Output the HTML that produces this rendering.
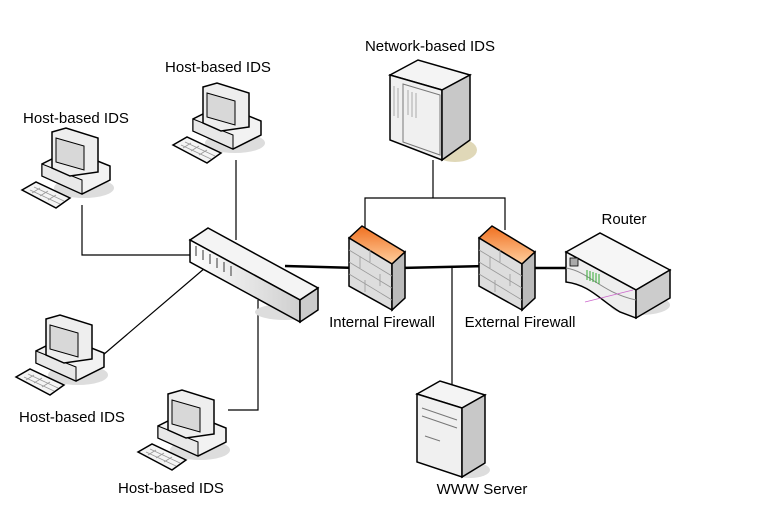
<!DOCTYPE html>
<html><head><meta charset="utf-8"><style>
body{margin:0;background:#fff}
svg{display:block}
text{font-family:"Liberation Sans",sans-serif;font-size:15px;fill:#000}
</style></head><body>
<svg width="771" height="513" viewBox="0 0 771 513">
<defs>
<linearGradient id="g1" x1="0" y1="0" x2="1" y2="0"><stop offset="0" stop-color="#fff"/><stop offset="1" stop-color="#cfcfcf"/></linearGradient>
<linearGradient id="fw" x1="0" y1="0" x2="0" y2="1"><stop offset="0" stop-color="#f07020"/><stop offset="1" stop-color="#ffd0a0"/></linearGradient>
<g id="pc">
<ellipse cx="62" cy="60" rx="30" ry="10" fill="#ddd"/>
<polygon points="20,48 60,66 88,52 88,38 48,22 20,36" fill="#f2f2f2" stroke="#000" stroke-width="1.5"/>
<polygon points="20,36 60,52 60,66 20,48" fill="#e8e8e8" stroke="#000" stroke-width="1"/>
<polygon points="30,4 44,0 76,10 76,44 48,48 30,40" fill="#eee" stroke="#000" stroke-width="1.5"/>
<polygon points="34,10 62,18 62,42 34,34" fill="#d8d8d8" stroke="#000" stroke-width="1"/>
<polygon points="0,62 14,54 48,70 34,80" fill="#f4f4f4" stroke="#000" stroke-width="1.5"/>
<path d="M8,62 L38,76 M12,59 L42,73 M18,60 L10,65 M26,63 L18,68 M34,67 L26,72" stroke="#999" stroke-width="0.8"/>
</g>
</defs>

<g stroke="#000" fill="none" stroke-width="1.2">
<polyline points="82,205 82,255 195,255"/>
<line x1="236" y1="160" x2="236" y2="240"/>
<line x1="103" y1="355" x2="212" y2="262"/>
<polyline points="228,410 258,410 258,300"/>
<polyline points="433,160 433,198"/>
<polyline points="365,230 365,198 505,198 505,230"/>
<line x1="452" y1="268" x2="452" y2="385"/>
</g>
<g stroke="#000" stroke-width="2.5">
<line x1="285" y1="266" x2="358" y2="268"/>
<line x1="400" y1="268" x2="487" y2="266"/>
<line x1="530" y1="268" x2="568" y2="268"/>
</g>

<use href="#pc" transform="translate(22,128)"/>
<use href="#pc" transform="translate(173,83)"/>
<use href="#pc" transform="translate(16,315)"/>
<use href="#pc" transform="translate(138,390)"/>

<ellipse cx="285" cy="312" rx="30" ry="8" fill="#ddd"/>
<polygon points="190,240 208,228 318,288 300,300" fill="#f4f4f4" stroke="#000" stroke-width="1.5"/>
<polygon points="190,240 300,300 300,322 190,262" fill="url(#g1)" stroke="#000" stroke-width="1.5"/>
<polygon points="300,300 318,288 318,310 300,322" fill="#ccc" stroke="#000" stroke-width="1.5"/>
<g stroke="#777" stroke-width="1.5"><path d="M196,246v10M203,250v10M210,254v10M217,258v10M224,262v10M231,266v10"/></g>

<ellipse cx="455" cy="150" rx="22" ry="12" fill="#e0d8b8"/>
<polygon points="390,75 418,60 470,75 442,90" fill="#f4f4f4" stroke="#000" stroke-width="1.5"/>
<polygon points="390,75 442,90 442,160 390,140" fill="#f0f0f0" stroke="#000" stroke-width="1.5"/>
<polygon points="442,90 470,75 470,140 442,160" fill="#c8c8c8" stroke="#000" stroke-width="1.5"/>
<polygon points="403,84 440,95 440,155 403,142" fill="none" stroke="#777"/>
<g stroke="#aaa"><path d="M394,86v30M398,88v30M408,90v25M412,92v25M416,93v25"/></g>

<g id="fw1">
<polygon points="349,238 362,226 405,252 392,264" fill="url(#fw)" stroke="#000" stroke-width="1.5"/>
<polygon points="349,238 392,264 392,310 349,286" fill="#ddd" stroke="#000" stroke-width="1.5"/>
<polygon points="392,264 405,252 405,298 392,310" fill="#bbb" stroke="#000" stroke-width="1.5"/>
<g stroke="#999" stroke-width="0.8"><path d="M349,250 392,276M349,262 392,288M349,274 392,300M370,250v12M360,256v12M380,274v12M365,280v12"/></g>
</g>
<use href="#fw1" transform="translate(130,0)"/>

<ellipse cx="640" cy="305" rx="30" ry="10" fill="#ddd"/>
<polygon points="566,252 600,233 670,270 636,290" fill="#f6f6f6" stroke="#000" stroke-width="1.5"/>
<path d="M566,252 L636,290 L636,318 L620,312 C600,300 590,285 566,282 Z" fill="#eee" stroke="#000" stroke-width="1.5"/>
<polygon points="636,290 670,270 670,298 636,318" fill="#ccc" stroke="#000" stroke-width="1.5"/>
<path d="M566,268 C590,272 600,292 636,300" stroke="#888" fill="none"/>
<rect x="570" y="258" width="8" height="8" fill="#aaa" stroke="#000" stroke-width="0.8"/>
<g stroke="#3a3" stroke-width="1"><path d="M587,270v10M590,271v10M593,272v10M596,273v10M599,274v10"/></g>
<line x1="585" y1="302" x2="633" y2="290" stroke="#c6c" stroke-width="0.8"/>

<ellipse cx="470" cy="470" rx="20" ry="8" fill="#ddd"/>
<polygon points="417,394 440,381 485,395 462,408" fill="#f4f4f4" stroke="#000" stroke-width="1.5"/>
<polygon points="417,394 462,408 462,477 417,462" fill="#f0f0f0" stroke="#000" stroke-width="1.5"/>
<polygon points="462,408 485,395 485,463 462,477" fill="#c8c8c8" stroke="#000" stroke-width="1.5"/>
<g stroke="#777"><path d="M422,408 457,420M422,416 457,428M425,436 440,441"/></g>

<text x="430" y="51" text-anchor="middle">Network-based IDS</text>
<text x="218" y="72" text-anchor="middle">Host-based IDS</text>
<text x="76" y="123" text-anchor="middle">Host-based IDS</text>
<text x="72" y="422" text-anchor="middle">Host-based IDS</text>
<text x="171" y="493" text-anchor="middle">Host-based IDS</text>
<text x="624" y="224" text-anchor="middle">Router</text>
<text x="382" y="327" text-anchor="middle">Internal Firewall</text>
<text x="520" y="327" text-anchor="middle">External Firewall</text>
<text x="482" y="494" text-anchor="middle">WWW Server</text>
</svg>
</body></html>
